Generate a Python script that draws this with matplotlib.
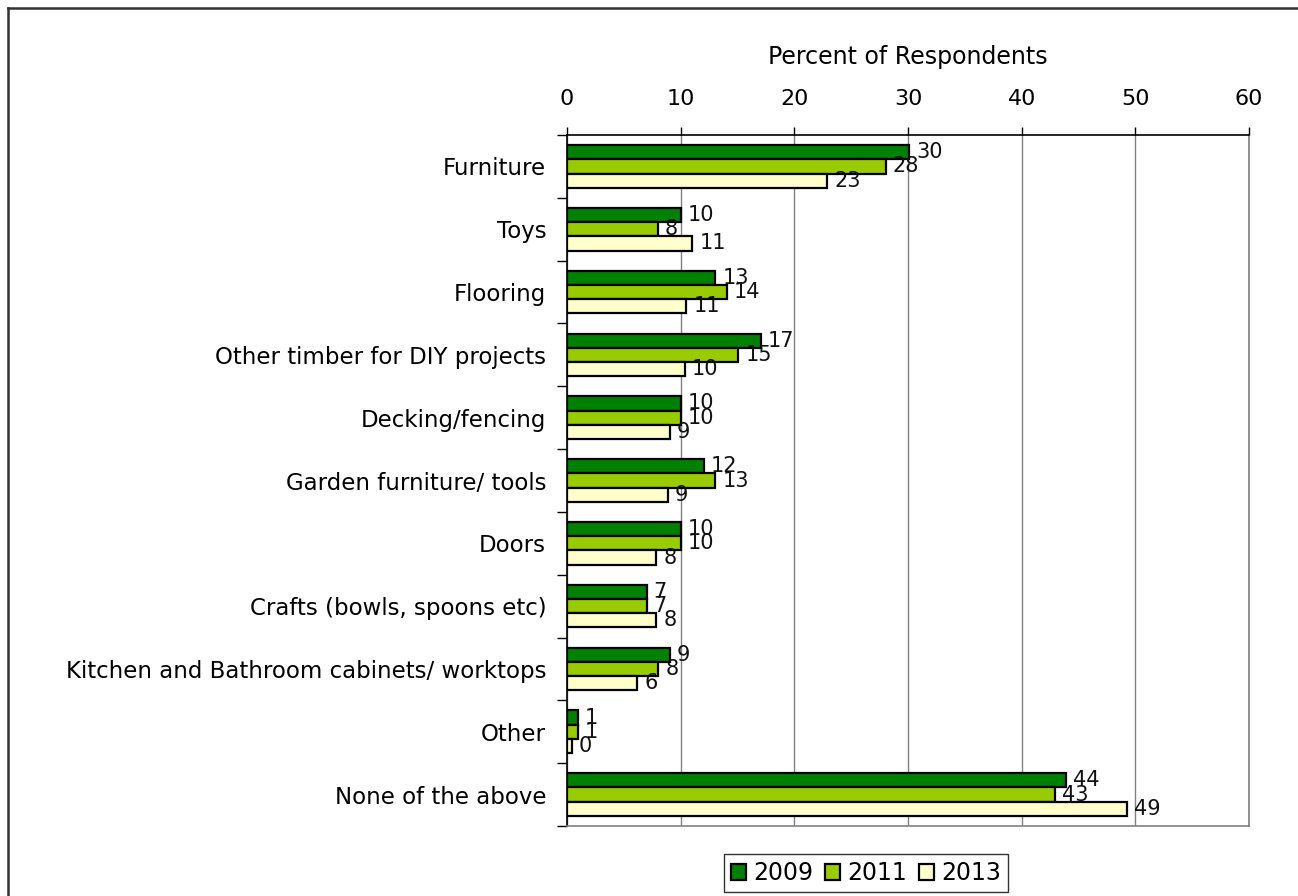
import matplotlib
matplotlib.use("Agg")
import matplotlib.pyplot as plt
from matplotlib.lines import Line2D
import numpy as np

# Categories, top to bottom
categories = ["Furniture", "Toys", "Flooring", "Other timber for DIY projects",
              "Decking/fencing", "Garden furniture/ tools", "Doors",
              "Crafts (bowls, spoons etc)", "Kitchen and Bathroom cabinets/ worktops",
              "Other", "None of the above"]

# Bar lengths
vals_2009 = [30.1, 10.0, 13.05, 17.07, 10.0, 12.05, 10.0, 7.0, 9.03, 0.95, 43.9]
vals_2011 = [28.06, 7.98, 14.05, 15.07, 10.0, 13.05, 10.0, 7.0, 8.04, 0.95, 42.9]
vals_2013 = [22.9, 11.03, 10.5, 10.35, 9.03, 8.86, 7.86, 7.86, 6.19, 0.4, 49.25]

# Printed value labels
labels_2009 = ["30", "10", "13", "17", "10", "12", "10", "7", "9", "1", "44"]
labels_2011 = ["28", "8", "14", "15", "10", "13", "10", "7", "8", "1", "43"]
labels_2013 = ["23", "11", "11", "10", "9", "9", "8", "8", "6", "0", "49"]

series = [("2009", vals_2009, labels_2009, "#008000"),
          ("2011", vals_2011, labels_2011, "#99CC00"),
          ("2013", vals_2013, labels_2013, "#FFFFCC")]

plt.rcParams['font.family'] = ['DejaVu Sans']

fig = plt.figure(figsize=(12.98, 8.96), dpi=100)
ax = fig.add_axes([567/1298, 1-826/896, (1249-567)/1298, (826-135)/896])

y = np.arange(len(categories))
h = 0.226
for k, (name, vals, labs, col) in enumerate(series):
    pos = y + (k - 1) * h
    ax.barh(pos, vals, height=h, color=col, edgecolor='black', linewidth=1.6,
            label=name, zorder=3)
    for p, v, t in zip(pos, vals, labs):
        ax.annotate(t, (v, p), xytext=(5, 0), textcoords='offset points',
                    va='center', ha='left', fontsize=15, color='#111111', zorder=4)

ax.set_xlim(0, 60)
ax.set_ylim(len(categories) - 0.5, -0.5)
ax.set_xticks(np.arange(0, 61, 10))
ax.xaxis.tick_top()
ax.xaxis.set_label_position('top')
ax.set_xlabel("Percent of Respondents", fontsize=17, labelpad=18)
ax.tick_params(axis='x', direction='out', length=6, width=1, pad=13, labelsize=16, color='black')
ax.grid(axis='x', color='#808080', linewidth=1, zorder=0)

# category ticks at group boundaries
ax.set_yticks(y)
ax.set_yticklabels(categories, fontsize=16.5)
ax.set_yticks(np.arange(-0.5, len(categories), 1), minor=True)
ax.tick_params(axis='y', which='major', length=0, pad=15)
ax.tick_params(axis='y', which='minor', length=7, width=1, color='black')

ax.spines['top'].set_color('black')
ax.spines['left'].set_color('black')
ax.spines['right'].set_color('#808080')
ax.spines['bottom'].set_color('#808080')
for s in ax.spines.values():
    s.set_linewidth(1.2)

leg = fig.legend(loc='center', bbox_to_anchor=(866/1298, 1-873/896), ncol=3,
                 fontsize=17, frameon=True, fancybox=False, handlelength=0.65,
                 handleheight=0.65, handletextpad=0.3, columnspacing=0.5,
                 borderpad=0.3, edgecolor='black')
leg.get_frame().set_linewidth(1)

# outer chart frame (runs off the right and bottom edge)
fig.add_artist(Line2D([8/1298, 8/1298], [0, 1-8/896], color='#333333', linewidth=1.8))
fig.add_artist(Line2D([8/1298, 1], [1-8/896, 1-8/896], color='#333333', linewidth=1.8))

fig.savefig("out.png", dpi=100)
